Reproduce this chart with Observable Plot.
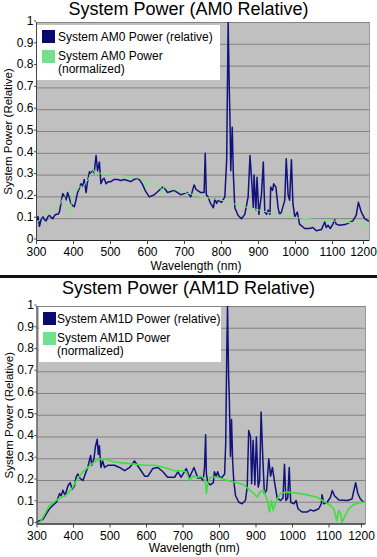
<!DOCTYPE html>
<html><head><meta charset="utf-8">
<script src="https://cdn.jsdelivr.net/npm/d3@7"></script>
<script src="https://cdn.jsdelivr.net/npm/@observablehq/plot@0.6"></script>
<style>
body{margin:0;background:#fff;font-family:"Liberation Sans",Arial,sans-serif;color:#000;}
#wrap{position:relative;width:377px;height:557px;overflow:hidden;}
.title{text-align:center;font-size:18px;white-space:nowrap;}
.sep{height:3px;background:#111;}
.legend{position:absolute;background:#fff;}
.sw{position:absolute;width:13px;height:13px;}
.lt{position:absolute;font-size:12px;line-height:12.5px;white-space:nowrap;}
svg{overflow:visible;}
</style></head>
<body>
<div id="wrap"></div>
<script>
// ---- data ----
const xTicks = [300, 400, 500, 600, 700, 800, 900, 1000, 1100, 1200];
const yTicks = [0, 0.1, 0.2, 0.3, 0.4, 0.5, 0.6, 0.7, 0.8, 0.9, 1];
const yTickLabels = ["0", "0.1", "0.2", "0.3", "0.4", "0.5", "0.6", "0.7", "0.8", "0.9", "1"];

const titles = ["System Power (AM0 Relative)", "System Power (AM1D Relative)"];
const legendRelative = ["System AM0 Power (relative)", "System AM1D Power (relative)"];
const legendNormalized = [["System AM0 Power", "(normalized)"], ["System AM1D Power", "(normalized)"]];
const xLabel = "Wavelength (nm)";
const yLabel = "System Power (Relative)";

// AM0 relative (navy)
const am0RelWl = [300,304,308,313,317,322,326,331,335,340,344,349,353,358,362,367,371,376,380,384,388,393,398,402,406,411,416,420,425,429,434,438,443,447,452,456,461,465,470,474,479,483,488,494,501,510,519,528,537,546,555,564,573,580,587,595,605,612,618,628,641,648,654,663,672,681,690,699,708,717,726,731,735,744,748,753,756,759,764,769,778,782,787,791,800,809,814,816,818,821,823,825,829,832,836,845,854,863,872,877,881,886,888,893,896,901,908,913,917,922,926,931,933,938,941,947,953,957,962,971,975,980,984,989,993,998,1005,1011,1025,1038,1047,1056,1070,1079,1083,1088,1094,1101,1106,1110,1119,1137,1155,1164,1170,1178,1187,1196,1200];
const am0RelVal = [0.09,0.11,0.065,0.1,0.11,0.095,0.09,0.11,0.115,0.105,0.1,0.115,0.12,0.12,0.13,0.18,0.215,0.2,0.185,0.22,0.2,0.17,0.16,0.155,0.18,0.22,0.24,0.26,0.25,0.28,0.22,0.27,0.315,0.31,0.32,0.31,0.39,0.32,0.36,0.26,0.28,0.285,0.26,0.27,0.27,0.28,0.28,0.275,0.28,0.275,0.27,0.28,0.285,0.275,0.255,0.225,0.2,0.205,0.21,0.225,0.245,0.235,0.22,0.225,0.23,0.22,0.21,0.215,0.22,0.2,0.255,0.235,0.23,0.22,0.22,0.22,0.40,0.21,0.2,0.175,0.15,0.19,0.17,0.185,0.175,0.2,0.37,0.7,1.0,0.7,0.55,0.32,0.52,0.305,0.15,0.115,0.1,0.12,0.2,0.39,0.29,0.15,0.3,0.14,0.29,0.12,0.21,0.36,0.13,0.12,0.14,0.12,0.245,0.23,0.26,0.245,0.15,0.12,0.13,0.185,0.375,0.21,0.185,0.37,0.17,0.11,0.13,0.075,0.055,0.055,0.06,0.045,0.05,0.085,0.06,0.07,0.055,0.075,0.095,0.075,0.07,0.075,0.09,0.115,0.175,0.13,0.1,0.09,0.09];

// AM0 normalized (green)
const am0NormWl = [300,305,310,315,320,325,330,335,340,345,350,355,360,365,370,375,380,385,390,395,400,405,410,415,420,425,430,435,440,445,450,455,460,465,470,475,480,490,500,520,540,560,580,590,595,600,620,635,640,645,660,680,700,720,750,780,800,850,900,950,1000,1050,1100,1150,1200];
const am0NormVal = [0.075,0.09,0.1,0.11,0.13,0.14,0.125,0.135,0.14,0.15,0.145,0.155,0.16,0.17,0.19,0.2,0.17,0.13,0.11,0.19,0.22,0.24,0.23,0.245,0.25,0.24,0.26,0.27,0.28,0.3,0.31,0.325,0.3,0.31,0.305,0.31,0.3,0.305,0.3,0.298,0.295,0.29,0.285,0.28,0.24,0.275,0.26,0.25,0.21,0.25,0.24,0.23,0.22,0.212,0.2,0.19,0.185,0.16,0.14,0.12,0.105,0.097,0.09,0.082,0.072];

// AM1D relative (navy)
const am1dRelWl = [300,307,316,325,334,343,353,362,366,371,377,385,391,396,403,407,412,418,426,430,439,447,450,456,460,465,468,471,475,480,485,494,512,526,540,554,567,581,595,604,617,631,645,658,677,686,695,709,718,730,741,748,755,759,762,764,768,775,783,786,791,795,800,807,814,817,820,822,825,827,830,833,836,839,844,853,862,871,876,880,885,888,892,897,901,906,910,914,919,923,929,935,940,945,951,958,967,974,978,982,987,991,995,1004,1010,1015,1026,1040,1049,1058,1072,1079,1081,1086,1095,1104,1109,1115,1127,1150,1163,1173,1179,1186,1195,1200];
const am1dRelVal = [0.01,0.015,0.02,0.045,0.07,0.085,0.1,0.14,0.13,0.155,0.13,0.177,0.19,0.16,0.177,0.215,0.23,0.21,0.2,0.22,0.26,0.315,0.27,0.3,0.355,0.39,0.32,0.36,0.26,0.29,0.26,0.27,0.27,0.26,0.245,0.26,0.29,0.255,0.22,0.22,0.255,0.26,0.24,0.215,0.215,0.24,0.215,0.255,0.215,0.26,0.21,0.215,0.2,0.26,0.41,0.23,0.19,0.18,0.19,0.24,0.22,0.24,0.215,0.215,0.23,0.37,0.8,1.0,0.675,0.57,0.31,0.48,0.29,0.2,0.13,0.1,0.093,0.108,0.17,0.43,0.4,0.185,0.385,0.18,0.4,0.17,0.2,0.515,0.29,0.14,0.155,0.3,0.22,0.26,0.19,0.12,0.108,0.12,0.275,0.108,0.12,0.26,0.1,0.093,0.108,0.07,0.055,0.055,0.065,0.06,0.07,0.093,0.135,0.093,0.1,0.123,0.154,0.13,0.11,0.108,0.115,0.19,0.14,0.115,0.1,0.1];

// AM1D normalized (green)
const am1dNormWl = [300,302,311,321,334,353,371,385,398,412,426,439,453,467,476,490,512,540,567,595,622,649,677,695,709,718,727,741,748,757,762,764,768,775,794,821,848,867,880,894,903,912,921,931,937,942,947,956,967,985,1013,1040,1068,1090,1104,1113,1121,1127,1132,1136,1142,1154,1168,1182,1195,1200];
const am1dNormVal = [0,0,0.015,0.045,0.085,0.11,0.125,0.14,0.17,0.21,0.24,0.26,0.28,0.295,0.3,0.297,0.285,0.28,0.275,0.27,0.27,0.26,0.245,0.245,0.24,0.2,0.22,0.215,0.22,0.21,0.18,0.14,0.19,0.215,0.215,0.2,0.19,0.18,0.16,0.14,0.123,0.147,0.154,0.108,0.055,0.108,0.062,0.108,0.14,0.147,0.142,0.134,0.123,0.1,0.085,0.07,0.016,0.062,0.047,0.008,0.031,0.07,0.09,0.097,0.1,0.1];

// ---- drawing ----
const NAVY = "#12127c";
const wrap = document.getElementById("wrap");

function chart(opts) {
  const rel = opts.relWl.map((w, i) => ({w, v: opts.relVal[i]}));
  const norm = opts.normWl.map((w, i) => ({w, v: opts.normVal[i]}));
  const lastTick = xTicks[xTicks.length - 1];
  return Plot.plot({
    width: 377,
    height: opts.height,
    marginLeft: opts.ml, marginRight: opts.mr, marginTop: opts.mt, marginBottom: opts.mb,
    style: {fontFamily: "'Liberation Sans', Arial, sans-serif", fontSize: "12px", background: "transparent", overflow: "visible", color: "#000"},
    x: {domain: [300, 1200]},
    y: {domain: [0, 1]},
    marks: [
      Plot.frame({fill: "#c0c0c0", stroke: "#9a9a9a"}),
      Plot.ruleY(yTicks, {stroke: "#828282", strokeWidth: 1}),
      Plot.line(rel, {x: "w", y: "v", stroke: NAVY, strokeWidth: 1.5, clip: true}),
      Plot.line(norm, {x: "w", y: "v", stroke: opts.green, strokeWidth: opts.greenWidth, clip: true}),
      Plot.ruleY([0], {stroke: "#222"}),
      Plot.ruleX([300], {stroke: "#444"}),
      Plot.axisX({ticks: xTicks.slice(0, -1), tickSize: 4, tickPadding: opts.tp, label: null, fontSize: 12, stroke: "#444", tickFormat: d => String(d)}),
      Plot.axisX({ticks: [lastTick], tickSize: 4, tickPadding: opts.tp, label: null, fontSize: 12, stroke: "#444", tickFormat: d => String(d), dx: opts.lastDx}),
      Plot.axisY({ticks: yTicks, tickSize: 2, tickPadding: 1, label: null, fontSize: 12, dy: -1.5,
        tickFormat: d => yTickLabels[yTicks.indexOf(d)], stroke: "#444"}),
      Plot.text([yLabel], {frameAnchor: "left", dx: -28, rotate: -90, text: d => d, fontSize: 11.5, textAnchor: "middle", lineAnchor: "middle"}),
      Plot.text([xLabel], {frameAnchor: "bottom", dx: -7, dy: opts.xlabDy, text: d => d, fontSize: 12, lineAnchor: "middle"})
    ]
  });
}

function addTitle(text, h, lh) {
  const d = document.createElement("div");
  d.className = "title";
  d.style.height = h + "px";
  d.style.lineHeight = lh + "px";
  d.textContent = text;
  wrap.appendChild(d);
}

function addLegend(box, i) {
  const L = document.createElement("div");
  L.className = "legend";
  Object.assign(L.style, {left: box.x + "px", top: box.y + "px", width: box.w + "px", height: box.h + "px"});
  const s1 = document.createElement("div");
  s1.className = "sw"; Object.assign(s1.style, {left: box.sx + "px", top: box.s1y + "px", background: "#0a0a6e"});
  const s2 = document.createElement("div");
  s2.className = "sw"; Object.assign(s2.style, {left: box.sx + "px", top: box.s2y + "px", background: "#72e08c"});
  const t1 = document.createElement("div");
  t1.className = "lt"; Object.assign(t1.style, {left: box.tx + "px", top: box.t1y + "px"});
  t1.textContent = legendRelative[i];
  const t2 = document.createElement("div");
  t2.className = "lt"; Object.assign(t2.style, {left: box.tx + "px", top: box.t2y + "px"});
  t2.innerHTML = legendNormalized[i][0] + "<br>" + legendNormalized[i][1];
  L.append(s1, s2, t1, t2);
  wrap.appendChild(L);
}

// top chart
addTitle(titles[0], 19, 18);
wrap.appendChild(chart({relWl: am0RelWl, relVal: am0RelVal, normWl: am0NormWl, normVal: am0NormVal,
  green: "#86e486", greenWidth: 1, height: 256, ml: 36, mr: 8, mt: 3, mb: 35, xlabDy: 26, lastDx: -6, tp: 3}));
const sep = document.createElement("div"); sep.className = "sep"; wrap.appendChild(sep);
addTitle(titles[1], 24, 20);
wrap.appendChild(chart({relWl: am1dRelWl, relVal: am1dRelVal, normWl: am1dNormWl, normVal: am1dNormVal,
  green: "#3ee03e", greenWidth: 1.6, height: 255, ml: 36.5, mr: 12, mt: 4, mb: 33.5, xlabDy: 24.5, lastDx: -4, tp: 3}));

addLegend({x: 37, y: 25, w: 183, h: 55, sx: 5, s1y: 5, s2y: 25, tx: 21, t1y: 6, t2y: 25}, 0);
addLegend({x: 39, y: 307, w: 182, h: 55, sx: 4, s1y: 5, s2y: 25, tx: 18, t1y: 6, t2y: 25}, 1);
</script>
</body></html>
